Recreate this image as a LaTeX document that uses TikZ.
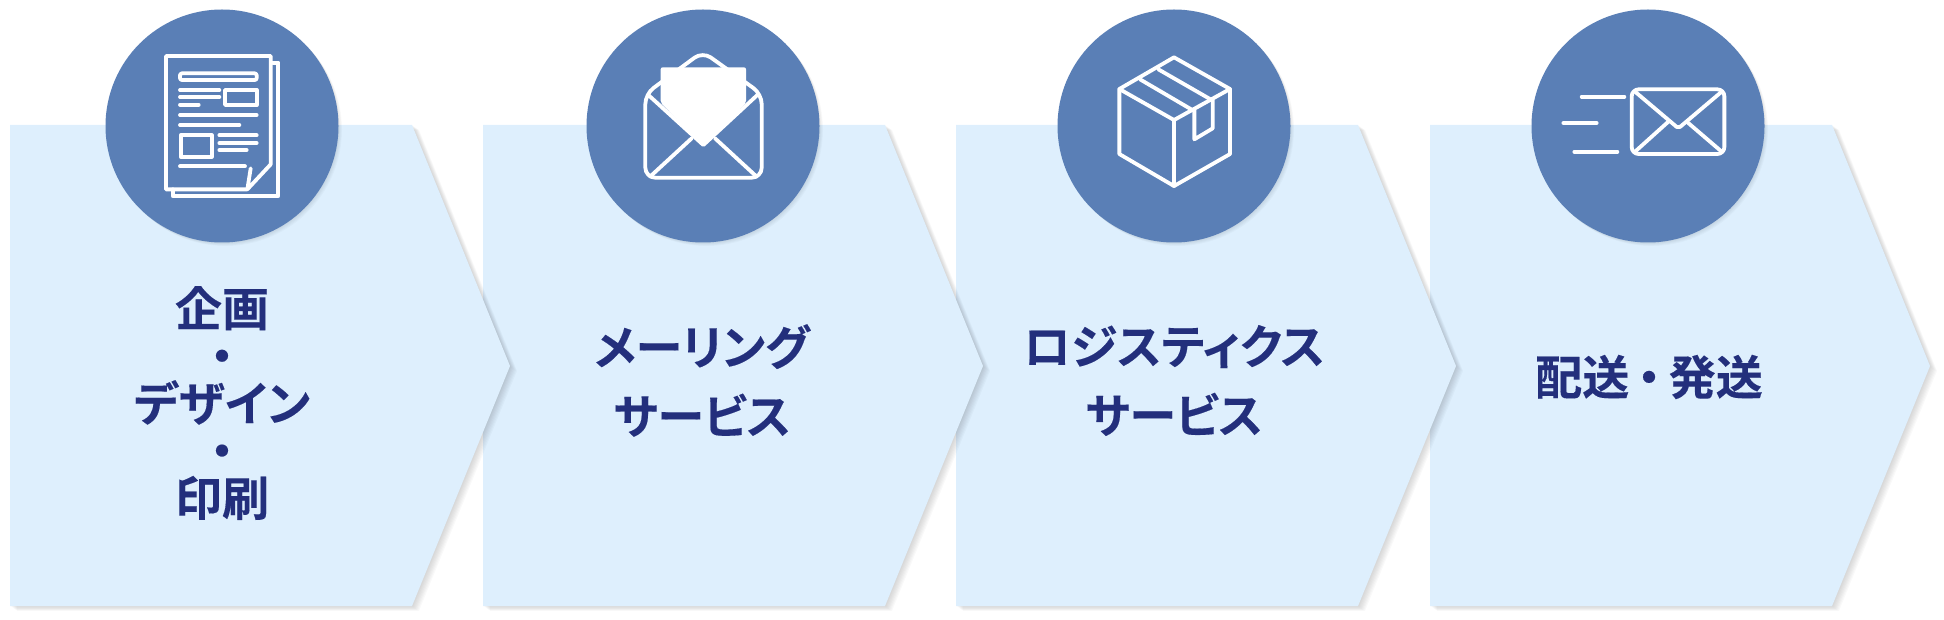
\documentclass[tikz,border=0pt]{standalone}
\usepackage{fontspec}
\newfontfamily\cjk[CharacterWidth=AlternateProportional,BoldFont={Noto Sans CJK JP Bold},BoldFeatures={FakeBold=0.25}]{Noto Sans CJK JP}
\definecolor{chevfill}{HTML}{DEEFFD}
\definecolor{discfill}{HTML}{5A7FB6}
\definecolor{labeltext}{HTML}{232F7C}
\tikzset{
  label/.style={text=labeltext, align=center, font=\cjk\bfseries\fontsize{23.5}{23.5}\selectfont},
  icon/.style={white, line width=1.9pt, line join=round, line cap=round},
}
\begin{document}
\begin{tikzpicture}[x=0.5pt,y=-0.5pt]
            \useasboundingbox (0,0) rectangle (1944,620);
            % chevrons, right one first so that each tip lies over the next
            \foreach \x in {1430,956,483,10} {
                \foreach \o in {1,2,3,4,5,6,7}
                    \fill [black, opacity=0.025] ({\x+\o},{125+\o*0.7}) -- ++(402,0) -- ++(98,241) -- ++(-98,240) -- ++(-402,0) -- cycle;
                \fill [chevfill] (\x,125) -- ++(402,0) -- ++(98,241) -- ++(-98,240) -- ++(-402,0) -- cycle;
            }
            % discs
            \foreach \x in {222,703,1174,1648} {
                \foreach \o in {1,2,3,4,5}
                    \fill [black, opacity=0.02] ({\x+\o*0.7},{126+\o*0.7}) circle (116.5);
                \fill [discfill] (\x,126) circle (116.5);
            }
            % paper
            \begin{scope}[shift={(140,30)},x=0.1667pt,y=-0.1667pt]
                \draw [icon] (322,478) -- (78,478) -- (78,78) -- (392,78) -- (392,403) -- (322,478) -- (332,415) -- cycle;
                \draw [icon] (398,98) -- (415,98) -- (415,498) -- (98,498) -- (98,478);
                \draw [icon, rounded corners=1pt] (120,130) rectangle (350,150);
                \draw [icon] (120,180) -- (238,180);
                \draw [icon] (120,201) -- (238,201);
                \draw [icon] (120,224) -- (176,224);
                \draw [icon] (255,180) rectangle (350,225);
                \draw [icon] (120,255) -- (350,255);
                \draw [icon] (120,285) -- (298,285);
                \draw [icon] (122,316) rectangle (215,380);
                \draw [icon] (238,316) -- (350,316);
                \draw [icon] (238,339) -- (350,339);
                \draw [icon] (238,360) -- (320,360);
                \draw [icon] (120,409) -- (315,409);
            \end{scope}
            % open envelope
            \begin{scope}[shift={(620,30)},x=0.1667pt,y=-0.1667pt]
                \draw [icon, rounded corners=5pt] (76,300) -- (76,192) -- (248,65) -- (425,192) -- (425,443) -- (76,443) -- cycle;
                \draw [icon] (85,195) -- (250,345) -- (412,195);
                \draw [icon] (215,325) -- (90,440);
                \draw [icon] (285,325) -- (410,440);
                \fill [white, rounded corners=1pt] (122,112) -- (378,112) -- (378,218) -- (250,350) -- (122,218) -- cycle;
            \end{scope}
            % box
            \begin{scope}[shift={(1100,40)},x=0.1667pt,y=-0.1667pt]
                \draw [icon] (222,52) -- (390,147) -- (390,342) -- (222,438) -- (58,342) -- (58,147) -- cycle;
                \draw [icon] (58,147) -- (222,240) -- (390,147);
                \draw [icon] (222,240) -- (222,438);
                \draw [icon] (120,118) -- (277,210);
                \draw [icon] (175,88) -- (335,180);
                \draw [icon] (283,210) -- (283,298) -- (338,265) -- (338,180);
            \end{scope}
            % sent envelope
            \begin{scope}[shift={(1540,70)},x=0.1667pt,y=-0.1667pt]
                \draw [icon, rounded corners=3.5pt] (275,58) rectangle (553,252);
                \draw [icon, rounded corners=1pt] (285,65) -- (415,175) -- (545,65);
                \draw [icon] (385,155) -- (285,245);
                \draw [icon] (440,155) -- (545,245);
                \draw [icon] (125,80) -- (253,80);
                \draw [icon] (70,159) -- (170,159);
                \draw [icon] (103,245) -- (232,245);
            \end{scope}
            % labels
            \node [label] (planning) at (222,403) {企画\\[0.2pt]・\\[0.2pt]デザイン\\[0.2pt]・\\[0.2pt]印刷};
            \node [label] (mailing) at (702,380.5) {メーリング\\[11pt]サービス};
            \node [label] (logistics) at (1174,380.5) {ロジスティクス\\[11pt]サービス};
            \node [label] (shipping) at (1649,377) {配送\hspace{4pt}・\hspace{4pt}発送};
        \end{tikzpicture}
\end{document}
